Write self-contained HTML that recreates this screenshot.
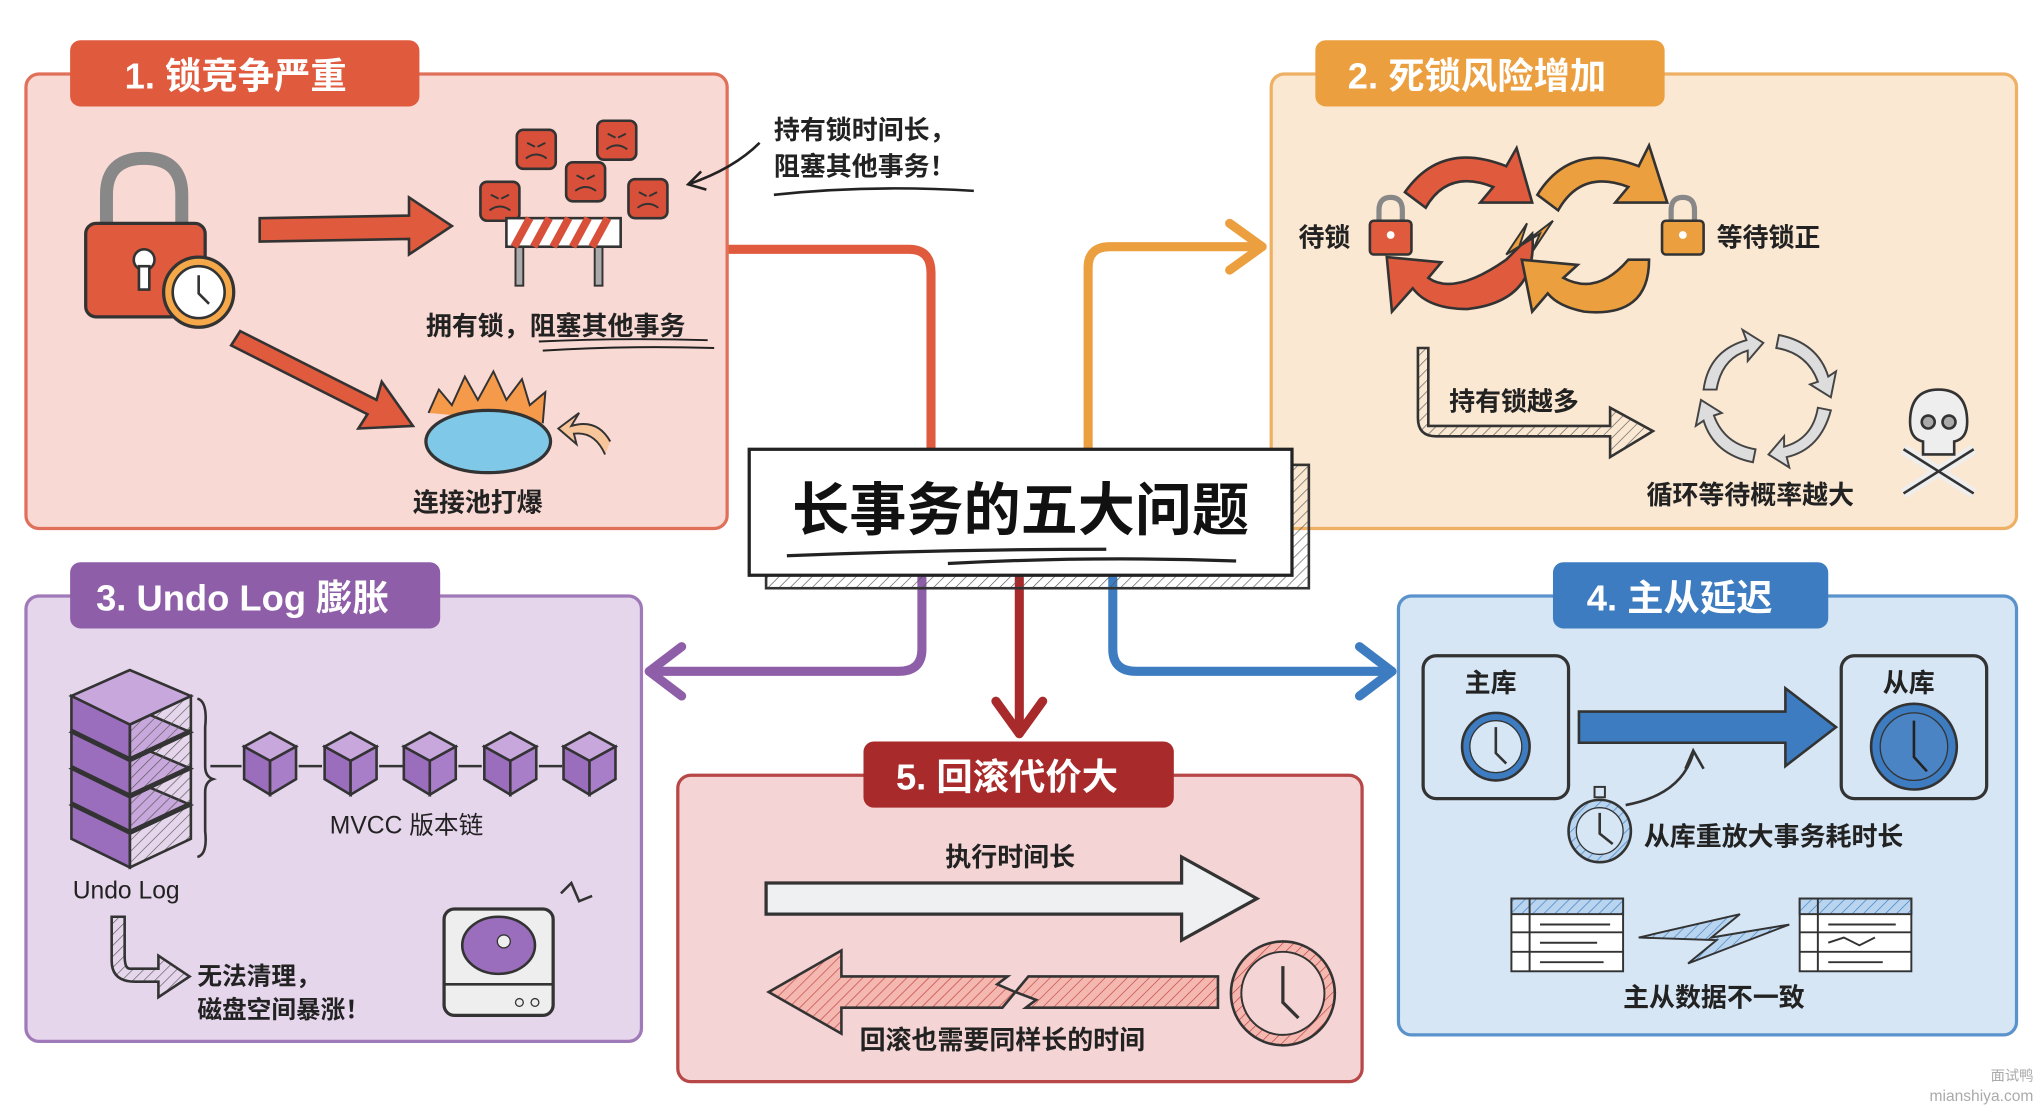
<!DOCTYPE html>
<html><head><meta charset="utf-8"><style>
html,body{margin:0;padding:0;background:#fff;width:2036px;height:1111px;overflow:hidden}
svg{display:block}
text{font-family:"Liberation Sans","Noto Sans CJK SC",sans-serif;font-weight:bold}
</style></head><body>
<svg width="2036" height="1111" viewBox="0 0 1568 855.6" preserveAspectRatio="none" xmlns="http://www.w3.org/2000/svg">
<defs>
<pattern id="h" width="6" height="6" patternUnits="userSpaceOnUse" patternTransform="rotate(45)"><line x1="0" y1="0" x2="0" y2="6" stroke="#555" stroke-width="1"/></pattern>
<pattern id="hr" width="6" height="6" patternUnits="userSpaceOnUse" patternTransform="rotate(45)"><rect width="6" height="6" fill="#f4b8b0"/><line x1="0" y1="0" x2="0" y2="6" stroke="#c04040" stroke-width="1"/></pattern>
<pattern id="hb" width="6" height="6" patternUnits="userSpaceOnUse" patternTransform="rotate(45)"><rect width="6" height="6" fill="#b8d4ee"/><line x1="0" y1="0" x2="0" y2="6" stroke="#3d7cc0" stroke-width="1"/></pattern>
</defs>
<rect width="1568" height="856" fill="#fff"/>

<g fill="none" stroke-width="7" stroke-linecap="round" stroke-linejoin="round">
<path d="M560 192 H700 Q717 192 717 210 V345" stroke="#e05a3e"/>
<path d="M838 345 V206 Q838 190 855 190 H972" stroke="#ec9f3e"/>
<path d="M947 172 L972 190 L947 208" stroke="#ec9f3e"/>
<path d="M710 445 V500 Q710 517 692 517 H500" stroke="#8e5ea8"/>
<path d="M525 498 L500 517 L525 536" stroke="#8e5ea8"/>
<path d="M857 445 V500 Q857 517 875 517 H1072" stroke="#3d7cc0"/>
<path d="M1047 498 L1072 517 L1047 536" stroke="#3d7cc0"/>
<path d="M785 445 V565" stroke="#a82a2a"/>
<path d="M767 540 L785 565 L803 540" stroke="#a82a2a"/>
</g>

<!-- Panel 1 -->
<rect x="20" y="57" width="540" height="350" rx="10" fill="#f9d9d3" stroke="#e0705a" stroke-width="2.5"/>
<rect x="54" y="31" width="269" height="51" rx="8" fill="#e05a3e"/>
<text x="96" y="68" font-size="28" fill="#fff">1. 锁竞争严重</text>
<path d="M82 175 V150 Q82 122 111 122 Q140 122 140 150 V175" fill="none" stroke="#888" stroke-width="10"/>
<rect x="66" y="172" width="92" height="72" rx="8" fill="#e05a3e" stroke="#333" stroke-width="2.5"/>
<circle cx="111" cy="200" r="8" fill="#fff" stroke="#333" stroke-width="2"/><rect x="107" y="205" width="8" height="18" fill="#fff" stroke="#333" stroke-width="2"/>
<circle cx="153" cy="225" r="27" fill="#f5a84a" stroke="#333" stroke-width="2.5"/><circle cx="153" cy="225" r="20" fill="#fff" stroke="#333" stroke-width="2"/>
<path d="M153 212 V226 L161 234" fill="none" stroke="#333" stroke-width="2"/>
<path d="M200 168 L315 166 L315 152 L348 174 L315 196 L315 184 L200 186 Z" fill="#e05a3e" stroke="#333" stroke-width="2"/>
<path d="M185 255 L290 308 L294 294 L318 328 L276 330 L283 319 L178 266 Z" fill="#e05a3e" stroke="#333" stroke-width="2"/>
<g fill="#d9503a" stroke="#333" stroke-width="2">
<rect x="398" y="100" width="30" height="30" rx="5"/><rect x="460" y="93" width="30" height="30" rx="5"/>
<rect x="436" y="125" width="30" height="30" rx="5"/><rect x="370" y="140" width="30" height="30" rx="5"/><rect x="484" y="138" width="30" height="30" rx="5"/>
</g>
<g fill="none" stroke="#333" stroke-width="1.5">
<path d="M405 122 Q413 116 421 122 M467 115 Q475 109 483 115 M443 147 Q451 141 459 147 M377 162 Q385 156 393 162 M491 160 Q499 154 507 160"/>
<path d="M406 110 L412 113 M420 110 L414 113 M468 103 L474 106 M482 103 L476 106 M444 135 L450 138 M458 135 L452 138 M378 150 L384 153 M392 150 L386 153 M492 148 L498 151 M506 148 L500 151"/>
</g>
<rect x="397" y="188" width="6" height="32" fill="#aaa" stroke="#333" stroke-width="1.5"/><rect x="458" y="188" width="6" height="32" fill="#aaa" stroke="#333" stroke-width="1.5"/>
<rect x="390" y="168" width="88" height="22" fill="#fff" stroke="#333" stroke-width="2"/>
<g stroke="#d9503a" stroke-width="6"><path d="M396 190 L408 168 M411 190 L423 168 M426 190 L438 168 M441 190 L453 168 M456 190 L468 168"/></g>
<text x="328" y="258" font-size="20" fill="#222">拥有锁，阻塞其他事务</text>
<path d="M415 263 Q480 260 545 262 M418 270 Q480 266 550 268" fill="none" stroke="#222" stroke-width="1.5"/>
<text x="596" y="107" font-size="20" fill="#222">持有锁时间长，</text>
<text x="596" y="135" font-size="20" fill="#222">阻塞其他事务！</text>
<path d="M596 150 Q670 142 750 147" fill="none" stroke="#222" stroke-width="2"/>
<path d="M585 110 Q565 130 530 142 M540 132 L530 142 L544 146" fill="none" stroke="#222" stroke-width="2"/>
<path d="M330 318 L338 300 L348 312 L358 290 L368 308 L380 286 L390 308 L402 292 L408 312 L420 302 L418 326" fill="#f59a4a" stroke="#333" stroke-width="1.5"/>
<ellipse cx="376" cy="340" rx="48" ry="24" fill="#7fc8e8" stroke="#333" stroke-width="2.5"/>
<path d="M470 340 Q460 322 440 328 L446 318 L430 330 L444 342 L442 334 Q458 332 466 350" fill="#f7c59a" stroke="#333" stroke-width="1.5"/>
<text x="318" y="394" font-size="20" fill="#222">连接池打爆</text>

<!-- Panel 2 -->
<rect x="979" y="57" width="574" height="350" rx="10" fill="#fbe8d2" stroke="#eeb064" stroke-width="2.5"/>
<rect x="1013" y="31" width="269" height="51" rx="8" fill="#ec9f3e"/>
<text x="1038" y="68" font-size="28" fill="#fff">2. 死锁风险增加</text>
<path d="M1082 148 Q1110 108 1160 128 L1168 114 L1180 156 L1140 156 L1150 144 Q1115 130 1098 160 Z" fill="#e05a3e" stroke="#333" stroke-width="2"/>
<path d="M1180 180 Q1185 232 1130 238 Q1100 238 1088 222 L1072 240 L1068 198 L1110 202 L1100 214 Q1120 228 1160 200 Z" fill="#e05a3e" stroke="#333" stroke-width="2"/>
<path d="M1184 150 Q1210 108 1262 128 L1270 112 L1284 156 L1244 156 L1254 144 Q1218 130 1200 162 Z" fill="#ec9f3e" stroke="#333" stroke-width="2"/>
<path d="M1270 200 Q1270 245 1220 240 Q1200 236 1192 226 L1180 240 L1172 200 L1215 204 L1204 214 Q1230 228 1254 200 Z" fill="#ec9f3e" stroke="#333" stroke-width="2"/>
<path d="M1160 196 L1176 172 L1170 190 L1196 170 L1180 194 L1186 180 Z" fill="#ec9f3e" stroke="#333" stroke-width="1.5"/>
<g><path d="M1062 172 V162 Q1062 152 1071 152 Q1080 152 1080 162 V172" fill="none" stroke="#888" stroke-width="4"/><rect x="1055" y="170" width="32" height="26" rx="3" fill="#e05a3e" stroke="#333" stroke-width="2"/><circle cx="1071" cy="181" r="3" fill="#fff"/></g>
<g><path d="M1287 172 V162 Q1287 152 1296 152 Q1305 152 1305 162 V172" fill="none" stroke="#888" stroke-width="4"/><rect x="1280" y="170" width="32" height="26" rx="3" fill="#ec9f3e" stroke="#333" stroke-width="2"/><circle cx="1296" cy="181" r="3" fill="#fff"/></g>
<text x="1000" y="190" font-size="20" fill="#222">待锁</text>
<text x="1322" y="190" font-size="20" fill="#222">等待锁正</text>
<path d="M1092 268 V322 Q1092 336 1106 336 H1240 V352 L1273 332 L1240 314 V328 H1100 V268 Z" fill="url(#h)" stroke="#333" stroke-width="2"/>
<text x="1116" y="316" font-size="20" fill="#222">持有锁越多</text>
<g fill="#ddd" stroke="#444" stroke-width="1.5">
<path d="M1312 300 Q1316 270 1345 262 L1342 254 L1358 264 L1346 278 L1346 270 Q1326 276 1322 300 Z"/>
<path d="M1370 258 Q1400 264 1408 290 L1414 286 L1410 306 L1394 296 L1400 294 Q1392 272 1368 268 Z"/>
<path d="M1410 316 Q1402 346 1376 352 L1378 360 L1362 350 L1374 336 L1374 344 Q1396 338 1400 314 Z"/>
<path d="M1350 356 Q1320 350 1312 324 L1306 328 L1310 308 L1326 318 L1320 320 Q1328 342 1352 346 Z"/>
</g>
<g stroke="#333" stroke-width="2">
<path d="M1466 346 L1520 380 M1520 346 L1466 380" stroke="#eee" stroke-width="8"/>
<path d="M1466 346 L1520 380 M1520 346 L1466 380" fill="none"/>
<path d="M1471 325 Q1471 300 1493 300 Q1515 300 1515 325 Q1515 338 1505 340 V350 H1481 V340 Q1471 338 1471 325 Z" fill="#eee"/>
<circle cx="1485" cy="325" r="5" fill="#aaa"/><circle cx="1501" cy="325" r="5" fill="#aaa"/>
</g>
<text x="1268" y="388" font-size="20" fill="#222">循环等待概率越大</text>

<!-- Panel 3 -->
<rect x="20" y="459" width="474" height="343" rx="10" fill="#e6d6ec" stroke="#a07ab8" stroke-width="2.5"/>
<rect x="54" y="433" width="285" height="51" rx="8" fill="#8e5ea8"/>
<text x="74" y="470" font-size="28" fill="#fff">3. Undo Log 膨胀</text>
<g stroke="#333" stroke-width="2">
<g transform="translate(0,60)"><path d="M55 560 L100 540 L147 560 L100 582 Z" fill="#c8a8dc"/><path d="M55 560 V586 L100 608 V582 Z" fill="#9a6ebc"/><path d="M147 560 V586 L100 608 V582 Z" fill="url(#h)"/></g>
<g transform="translate(0,32)"><path d="M55 560 L100 540 L147 560 L100 582 Z" fill="#c8a8dc"/><path d="M55 560 V586 L100 608 V582 Z" fill="#9a6ebc"/><path d="M147 560 V586 L100 608 V582 Z" fill="url(#h)"/></g>
<g transform="translate(0,4)"><path d="M55 560 L100 540 L147 560 L100 582 Z" fill="#c8a8dc"/><path d="M55 560 V586 L100 608 V582 Z" fill="#9a6ebc"/><path d="M147 560 V586 L100 608 V582 Z" fill="url(#h)"/></g>
<g transform="translate(0,-24)"><path d="M55 560 L100 540 L147 560 L100 582 Z" fill="#c8a8dc"/><path d="M55 560 V586 L100 608 V582 Z" fill="#9a6ebc"/><path d="M147 560 V586 L100 608 V582 Z" fill="url(#h)"/></g>
</g>
<path d="M152 538 Q160 540 158 560 V590 Q158 598 164 600 Q158 602 158 610 V640 Q160 658 152 660" fill="none" stroke="#333" stroke-width="2"/>
<g stroke="#333" stroke-width="2">
<g id="cb"><path d="M188 575 L208 564 L228 575 L208 586 Z" fill="#c8a8dc"/><path d="M188 575 V600 L208 612 V586 Z" fill="#9a6ebc"/><path d="M228 575 V600 L208 612 V586 Z" fill="#a87ec8"/></g>
<use href="#cb" x="62"/><use href="#cb" x="123"/><use href="#cb" x="185"/><use href="#cb" x="246"/>
<path d="M162 590 H186 M230 590 H248 M292 590 H310 M353 590 H371 M415 590 H433" fill="none"/>
</g>
<text x="254" y="642" font-size="19" fill="#222" style="font-weight:normal">MVCC 版本链</text>
<text x="56" y="692" font-size="19" fill="#222" style="font-weight:normal">Undo Log</text>
<path d="M86 706 V740 Q86 756 104 756 H122 V768 L146 752 L122 736 V746 H100 Q96 746 96 736 V706 Z" fill="url(#h)" stroke="#333" stroke-width="2"/>
<text x="152" y="758" font-size="19" fill="#222">无法清理，</text>
<text x="152" y="784" font-size="19" fill="#222">磁盘空间暴涨！</text>
<rect x="342" y="700" width="84" height="82" rx="8" fill="#eee" stroke="#333" stroke-width="2.5"/>
<path d="M342 758 H426" stroke="#333" stroke-width="2"/>
<ellipse cx="384" cy="728" rx="28" ry="22" fill="#9a6ebc" stroke="#333" stroke-width="2"/>
<circle cx="388" cy="725" r="5" fill="#eee" stroke="#333"/>
<circle cx="400" cy="772" r="3" fill="none" stroke="#333"/><circle cx="412" cy="772" r="3" fill="none" stroke="#333"/>
<path d="M432 688 L440 680 L446 694 L456 690" fill="none" stroke="#333" stroke-width="2"/>

<!-- Panel 4 -->
<rect x="1077" y="459" width="476" height="338" rx="10" fill="#d6e6f5" stroke="#5a92cc" stroke-width="2.5"/>
<rect x="1196" y="433" width="212" height="51" rx="8" fill="#3d7cc0"/>
<text x="1222" y="470" font-size="28" fill="#fff">4. 主从延迟</text>
<rect x="1096" y="505" width="112" height="110" rx="10" fill="#d6e6f5" stroke="#333" stroke-width="2.5"/>
<rect x="1418" y="505" width="112" height="110" rx="10" fill="#d6e6f5" stroke="#333" stroke-width="2.5"/>
<text x="1128" y="533" font-size="20" fill="#222">主库</text>
<text x="1450" y="533" font-size="20" fill="#222">从库</text>
<circle cx="1152" cy="575" r="26" fill="#3d7cc0" stroke="#333" stroke-width="2"/><circle cx="1152" cy="575" r="20" fill="#d6e6f5" stroke="#333"/>
<path d="M1152 560 V580 L1160 588" fill="none" stroke="#333" stroke-width="2"/>
<circle cx="1474" cy="575" r="33" fill="#3d7cc0" stroke="#333" stroke-width="2"/><circle cx="1474" cy="575" r="26" fill="#4a84c4" stroke="#333"/>
<path d="M1474 555 V583 L1484 594" fill="none" stroke="#222" stroke-width="2"/>
<path d="M1216 548 H1375 V530 L1414 560 L1375 590 V572 H1216 Z" fill="#3d7cc0" stroke="#333" stroke-width="2"/>
<path d="M1252 620 Q1295 612 1304 580 M1298 592 L1304 578 L1312 592" fill="none" stroke="#333" stroke-width="2"/>
<circle cx="1232" cy="640" r="24" fill="url(#hb)" stroke="#333" stroke-width="2"/><circle cx="1232" cy="640" r="18" fill="#d6e6f5" stroke="#333"/>
<rect x="1228" y="606" width="8" height="8" fill="none" stroke="#333" stroke-width="1.5"/>
<path d="M1232 626 V642 L1242 650" fill="none" stroke="#333" stroke-width="2"/>
<text x="1266" y="651" font-size="20" fill="#222">从库重放大事务耗时长</text>
<g stroke="#333" stroke-width="1.5">
<rect x="1164" y="692" width="86" height="56" fill="#fff"/><rect x="1164" y="692" width="86" height="12" fill="url(#hb)"/>
<path d="M1164 718 H1250 M1164 733 H1250 M1178 692 V748" fill="none"/>
<rect x="1386" y="692" width="86" height="56" fill="#fff"/><rect x="1386" y="692" width="86" height="12" fill="url(#hb)"/>
<path d="M1386 718 H1472 M1386 733 H1472 M1400 692 V748" fill="none"/>
<path d="M1186 712 H1240 M1186 726 H1230 M1186 741 H1235 M1408 712 H1460 M1408 726 L1420 722 L1432 728 L1444 722 M1408 741 H1450" fill="none"/>
<path d="M1262 722 L1340 704 L1318 722 L1378 712 L1300 742 L1322 724 Z" fill="url(#hb)"/>
</g>
<text x="1250" y="775" font-size="20" fill="#222">主从数据不一致</text>

<!-- Panel 5 -->
<rect x="522" y="597" width="527" height="236" rx="10" fill="#f4d4d4" stroke="#b84848" stroke-width="2.5"/>
<rect x="665" y="571" width="239" height="51" rx="8" fill="#a82a2a"/>
<text x="690" y="608" font-size="28" fill="#fff">5. 回滚代价大</text>
<text x="728" y="667" font-size="20" fill="#222">执行时间长</text>
<path d="M590 680 H910 V660 L968 692 L910 724 V704 H590 Z" fill="#eef0f2" stroke="#333" stroke-width="2.5"/>
<path d="M938 752 V776 H790 L798 770 L782 764 L792 752 Z" fill="url(#hr)" stroke="#333" stroke-width="2"/>
<path d="M776 752 L768 758 L782 764 L772 776 H648 V796 L592 764 L648 732 V752 Z" fill="url(#hr)" stroke="#333" stroke-width="2"/>
<circle cx="988" cy="765" r="40" fill="url(#hr)" stroke="#333" stroke-width="2"/><circle cx="988" cy="765" r="32" fill="#f4d4d4" stroke="#333" stroke-width="1.5"/>
<path d="M988 744 V772 L1000 784" fill="none" stroke="#333" stroke-width="2.5"/>
<text x="662" y="808" font-size="20" fill="#222">回滚也需要同样长的时间</text>

<!-- Center -->
<rect x="590" y="358" width="418" height="95" fill="url(#h)" stroke="#333" stroke-width="2"/>
<rect x="577" y="346" width="418" height="97" fill="#fff" stroke="#222" stroke-width="2.5"/>
<text x="786" y="408" font-size="44" fill="#111" text-anchor="middle">长事务的五大问题</text>
<path d="M606 428 Q730 423 852 423 M730 434 Q840 428 952 432" fill="none" stroke="#222" stroke-width="2.5"/>

<text x="1566" y="832" font-size="11" fill="#aaa" text-anchor="end" style="font-weight:normal">面试鸭</text>
<text x="1566" y="848" font-size="12" fill="#aaa" text-anchor="end" style="font-weight:normal">mianshiya.com</text>
</svg>
</body></html>
